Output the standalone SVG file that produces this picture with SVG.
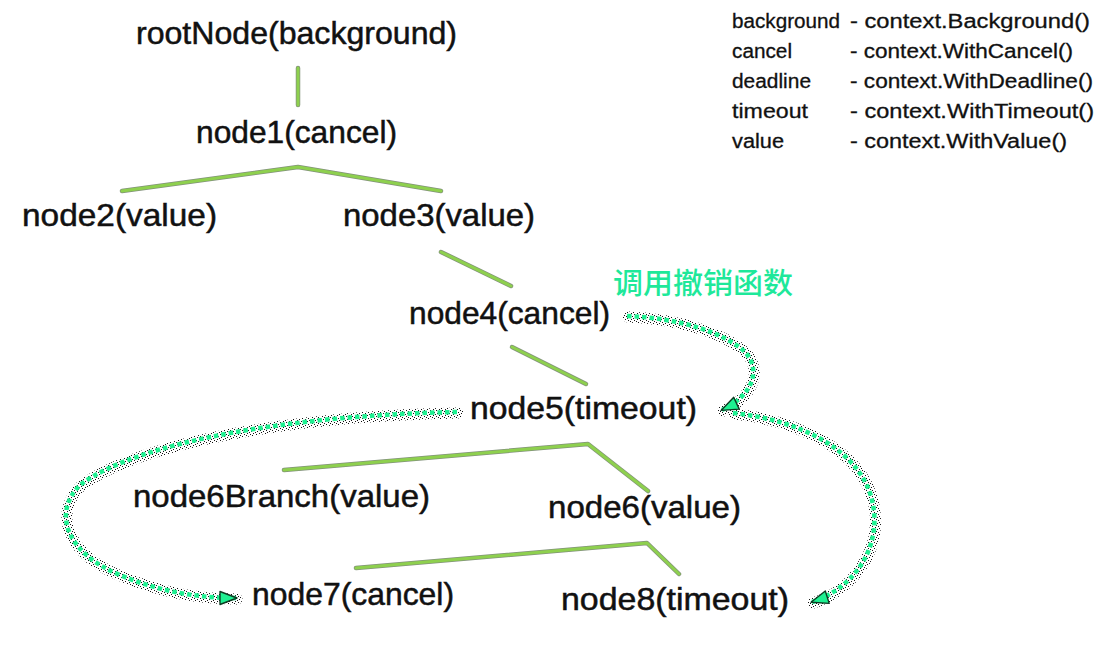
<svg xmlns="http://www.w3.org/2000/svg" width="1112" height="647" viewBox="0 0 1112 647">
  <defs>
    <style>
      .node { font-family: "Liberation Sans", "DejaVu Sans", sans-serif; font-size: 32px; fill: #111; stroke: #111; stroke-width: 0.5px; }
      .legend { font-family: "Liberation Sans", "DejaVu Sans", sans-serif; font-size: 20px; fill: #111; stroke: #111; stroke-width: 0.3px; }
      .note { font-family: "Noto Sans CJK SC", "Liberation Sans", sans-serif; font-size: 29px; font-weight: 500; fill: #1ee89a; }
      .edge-shadow { fill: none; stroke: #2f4a22; stroke-width: 4.5; stroke-linecap: round; stroke-linejoin: round; opacity: 0.6; }
      .edge { fill: none; stroke: #8ed04e; stroke-width: 3; stroke-linecap: round; stroke-linejoin: round; }
      .call-halo { fill: none; stroke: url(#grain); stroke-width: 11; stroke-linecap: round; }
      .call { fill: none; stroke: #1ef091; stroke-width: 4.5; stroke-dasharray: 4.5 3; }
    </style>
    <!-- sparse dark speckle used as the halo around the call arrows -->
    <pattern id="grain" width="6" height="6" patternUnits="userSpaceOnUse">
      <rect x="0" y="0" width="1" height="1" fill="#111"/>
      <rect x="3" y="1" width="1" height="1" fill="#111"/>
      <rect x="1" y="3" width="1" height="1" fill="#111"/>
      <rect x="4" y="4" width="1" height="1" fill="#111"/>
      <rect x="5" y="2" width="1" height="1" fill="#111"/>
      <rect x="2" y="5" width="1" height="1" fill="#111"/>
    </pattern>
    <marker id="head" viewBox="0 0 20 16" refX="17" refY="8" markerWidth="20" markerHeight="16" markerUnits="userSpaceOnUse" orient="auto">
      <path d="M1,1.5 L18,8 L1,14.5 Z" fill="#1ef091" stroke="#0d3b22" stroke-width="1.4" stroke-linejoin="round"/>
    </marker>
  </defs>

  <rect width="1112" height="647" fill="#ffffff"/>

  <g id="connectors">
    <!-- tree edges -->
    <g class="tree-edges">
      <path class="edge-shadow" d="M298,68 L298,105"/>
      <path class="edge" d="M298,68 L298,105"/>
      <path class="edge-shadow" d="M122,191 L298,167 L441,191"/>
      <path class="edge" d="M122,191 L298,167 L441,191"/>
      <path class="edge-shadow" d="M441,252 L511,286"/>
      <path class="edge" d="M441,252 L511,286"/>
      <path class="edge-shadow" d="M512,347 L586,384"/>
      <path class="edge" d="M512,347 L586,384"/>
      <path class="edge-shadow" d="M284,470 L588,444 L648,491"/>
      <path class="edge" d="M284,470 L588,444 L648,491"/>
      <path class="edge-shadow" d="M356,568 L647,543 L679,574"/>
      <path class="edge" d="M356,568 L647,543 L679,574"/>
    </g>
    <!-- cancel propagation arrows -->
    <g class="calls">
      <g transform="translate(1,1)">
        <path class="call-halo" d="M627,316 C680,318 725,333 745,352 C762,370 752,396 722,410"/>
        <path class="call-halo" d="M733,413 C800,420 860,450 872,500 C884,550 850,590 812,602"/>
        <path class="call-halo" d="M457,412 C300,415 140,440 80,485 C50,515 70,555 120,575 C160,592 200,598 236,598"/>
      </g>
      <path class="call" d="M627,316 C680,318 725,333 745,352 C762,370 752,396 722,410" marker-end="url(#head)"/>
      <path class="call" d="M733,413 C800,420 860,450 872,500 C884,550 850,590 812,602" marker-end="url(#head)"/>
      <path class="call" d="M457,412 C300,415 140,440 80,485 C50,515 70,555 120,575 C160,592 200,598 236,598" marker-end="url(#head)"/>
    </g>
  </g>

  <g id="rootNode"><text class="node" x="136" y="44" textLength="321" lengthAdjust="spacingAndGlyphs">rootNode(background)</text></g>
  <g id="node1"><text class="node" x="196" y="143" textLength="201" lengthAdjust="spacingAndGlyphs">node1(cancel)</text></g>
  <g id="node2"><text class="node" x="22" y="226" textLength="195" lengthAdjust="spacingAndGlyphs">node2(value)</text></g>
  <g id="node3"><text class="node" x="343" y="226" textLength="192" lengthAdjust="spacingAndGlyphs">node3(value)</text></g>
  <g id="node4"><text class="node" x="409" y="324" textLength="201" lengthAdjust="spacingAndGlyphs">node4(cancel)</text></g>
  <g id="node5"><text class="node" x="470" y="419" textLength="227" lengthAdjust="spacingAndGlyphs">node5(timeout)</text></g>
  <g id="node6Branch"><text class="node" x="133" y="507" textLength="297" lengthAdjust="spacingAndGlyphs">node6Branch(value)</text></g>
  <g id="node6"><text class="node" x="548" y="518" textLength="193" lengthAdjust="spacingAndGlyphs">node6(value)</text></g>
  <g id="node7"><text class="node" x="252" y="605" textLength="202" lengthAdjust="spacingAndGlyphs">node7(cancel)</text></g>
  <g id="node8"><text class="node" x="561" y="610" textLength="228" lengthAdjust="spacingAndGlyphs">node8(timeout)</text></g>

  <g id="cancel-note"><text class="note" x="613" y="294" textLength="180" lengthAdjust="spacingAndGlyphs">调用撤销函数</text></g>

  <g id="legend">
    <text class="legend" x="732" y="28" textLength="108" lengthAdjust="spacingAndGlyphs">background</text>
    <text class="legend" x="850" y="28" textLength="240" lengthAdjust="spacingAndGlyphs">- context.Background()</text>
    <text class="legend" x="732" y="58" textLength="60" lengthAdjust="spacingAndGlyphs">cancel</text>
    <text class="legend" x="850" y="58" textLength="223" lengthAdjust="spacingAndGlyphs">- context.WithCancel()</text>
    <text class="legend" x="732" y="88" textLength="79" lengthAdjust="spacingAndGlyphs">deadline</text>
    <text class="legend" x="850" y="88" textLength="243" lengthAdjust="spacingAndGlyphs">- context.WithDeadline()</text>
    <text class="legend" x="732" y="118" textLength="76" lengthAdjust="spacingAndGlyphs">timeout</text>
    <text class="legend" x="850" y="118" textLength="244" lengthAdjust="spacingAndGlyphs">- context.WithTimeout()</text>
    <text class="legend" x="732" y="148" textLength="52" lengthAdjust="spacingAndGlyphs">value</text>
    <text class="legend" x="850" y="148" textLength="217" lengthAdjust="spacingAndGlyphs">- context.WithValue()</text>
  </g>
</svg>
